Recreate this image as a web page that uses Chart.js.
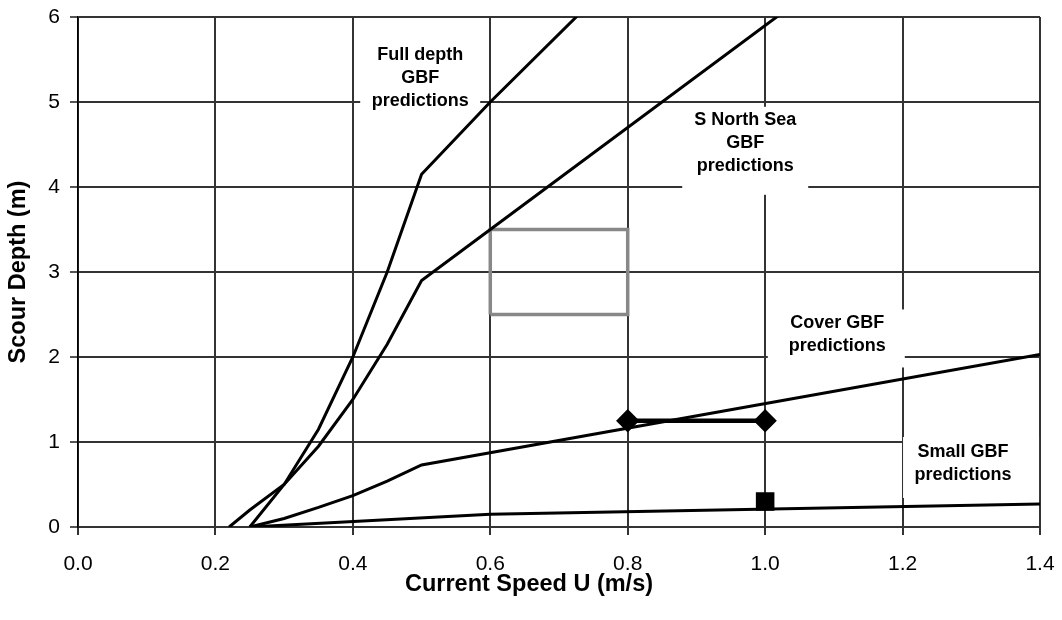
<!DOCTYPE html>
<html>
<head>
<meta charset="utf-8">
<script src="https://cdn.jsdelivr.net/npm/chart.js@4.4.1/dist/chart.umd.min.js"></script>
<style>
  html, body { margin: 0; padding: 0; background: #fff; }
  #wrap { width: 1062px; height: 620px; }
</style>
</head>
<body>
<div id="wrap"><canvas id="chart" width="1062" height="620"></canvas></div>
<script>
// Scour depth vs current speed, GBF predictions
const xTicks = [0.0, 0.2, 0.4, 0.6, 0.8, 1.0, 1.2, 1.4];
const yTicks = [0, 1, 2, 3, 4, 5, 6];

const fullDepthX = [0.25, 0.3, 0.35, 0.4, 0.45, 0.5, 0.6, 0.8];
const fullDepthY = [0, 0.5, 1.15, 2.0, 3.0, 4.15, 5.0, 6.6];

const northSeaX = [0.22, 0.25, 0.3, 0.35, 0.4, 0.45, 0.5, 0.6, 1.1];
const northSeaY = [0, 0.2, 0.5, 0.95, 1.5, 2.15, 2.9, 3.5, 6.5];

const coverX = [0.25, 0.3, 0.35, 0.4, 0.45, 0.5, 1.4];
const coverY = [0, 0.1, 0.23, 0.37, 0.54, 0.73, 2.03];

const smallX = [0.25, 0.6, 1.4];
const smallY = [0, 0.15, 0.27];

// grey box of observed range
const boxX = [0.6, 0.6, 0.8, 0.8, 0.6];
const boxY = [2.5, 3.5, 3.5, 2.5, 2.5];

// measured ranges
const rangeX = [0.8, 1.0];
const rangeY = [1.25, 1.25];
const pointX = [1.0];
const pointY = [0.3];

// curve labels: text lines, text centre in data units
const labelText = [
  ['Full depth', 'GBF', 'predictions'],
  ['S North Sea', 'GBF', 'predictions'],
  ['Cover GBF', 'predictions'],
  ['Small GBF', 'predictions']
];
const labelX = [0.498, 0.971, 1.105, 1.288];
const labelY = [5.28, 4.52, 2.265, 0.747];

const xTitle = 'Current Speed U (m/s)';
const yTitle = 'Scour Depth (m)';

const FONT = "'Liberation Sans', Arial, sans-serif";

function pts(xs, ys) {
  return xs.map((x, i) => ({ x: x, y: ys[i] }));
}

function lineSet(xs, ys, extra) {
  return Object.assign({
    data: pts(xs, ys),
    borderColor: '#000',
    borderWidth: 3,
    pointRadius: 0,
    tension: 0,
    fill: false
  }, extra || {});
}

// white boxes (px: centre offset from text, width, height) behind the labels
const boxDx = [0, 0, -1, 8];
const boxDy = [6, 8, 4, 4];
const boxW = [120, 126, 137, 136];
const boxH = [88, 88, 58, 61];

const curveLabels = {
  id: 'curveLabels',
  beforeDatasetsDraw(chart) {
    const ctx = chart.ctx;
    const xs = chart.scales.x, ys = chart.scales.y;
    const lh = 23;
    ctx.save();
    ctx.font = 'bold 18px ' + FONT;
    ctx.textAlign = 'center';
    ctx.textBaseline = 'middle';
    labelText.forEach((lines, i) => {
      const cx = xs.getPixelForValue(labelX[i]);
      const cy = ys.getPixelForValue(labelY[i]);
      ctx.fillStyle = '#fff';
      ctx.fillRect(cx + boxDx[i] - boxW[i] / 2, cy + boxDy[i] - boxH[i] / 2, boxW[i], boxH[i]);
      ctx.fillStyle = '#000';
      lines.forEach((t, j) => {
        ctx.fillText(t, cx, cy + (j - (lines.length - 1) / 2) * lh);
      });
    });
    ctx.restore();
  },
  afterDraw(chart) {
    // x title sits centred on the whole picture, not the plot area
    const ctx = chart.ctx;
    ctx.save();
    ctx.font = 'bold 23.5px ' + FONT;
    ctx.fillStyle = '#000';
    ctx.textAlign = 'center';
    ctx.textBaseline = 'middle';
    ctx.fillText(xTitle, 529, 585);
    ctx.restore();
  }
};

// keep tick label overflow from pushing the plot area in
function noPad(s) {
  s.paddingLeft = s.paddingRight = s.paddingTop = s.paddingBottom = 0;
}

new Chart(document.getElementById('chart'), {
  type: 'line',
  data: {
    datasets: [
      lineSet(fullDepthX, fullDepthY),
      lineSet(northSeaX, northSeaY),
      lineSet(coverX, coverY),
      lineSet(smallX, smallY),
      lineSet(boxX, boxY, { borderColor: '#888', borderWidth: 3.5 }),
      lineSet(rangeX, rangeY, {
        borderWidth: 4.5,
        pointRadius: 8.5,
        pointStyle: 'rectRot',
        pointBackgroundColor: '#000',
        pointBorderColor: '#000'
      }),
      lineSet(pointX, pointY, {
        showLine: false,
        pointRadius: 11,
        pointStyle: 'rect',
        pointBackgroundColor: '#000',
        pointBorderColor: '#000'
      })
    ]
  },
  options: {
    responsive: false,
    devicePixelRatio: 1,
    animation: false,
    layout: { padding: { top: 17, right: 22, left: 0, bottom: 0 } },
    plugins: {
      legend: { display: false },
      tooltip: { enabled: false }
    },
    scales: {
      x: {
        type: 'linear',
        min: 0,
        max: 1.4,
        afterFit: s => { s.height = 93; noPad(s); },
        afterBuildTicks: s => { s.ticks = xTicks.map(v => ({ value: v })); },
        ticks: {
          color: '#000',
          font: { family: FONT, size: 21 },
          padding: 17,
          maxRotation: 0,
          callback: v => v.toFixed(1)
        },
        grid: { color: '#333', lineWidth: 2, tickLength: 8, tickColor: '#333' },
        border: { color: '#333', width: 2 }
      },
      y: {
        min: 0,
        max: 6,
        afterFit: s => { s.width = 78; noPad(s); },
        afterBuildTicks: s => { s.ticks = yTicks.map(v => ({ value: v })); },
        ticks: {
          color: '#000',
          font: { family: FONT, size: 21 },
          padding: 10
        },
        grid: { color: '#333', lineWidth: 2, tickLength: 8, tickColor: '#555' },
        border: { color: '#000', width: 1.5 },
        title: {
          display: true,
          text: yTitle,
          color: '#000',
          font: { family: FONT, size: 23.5, weight: 'bold' },
          padding: { top: 4, bottom: 0 }
        }
      }
    }
  },
  plugins: [curveLabels]
});
</script>
</body>
</html>
